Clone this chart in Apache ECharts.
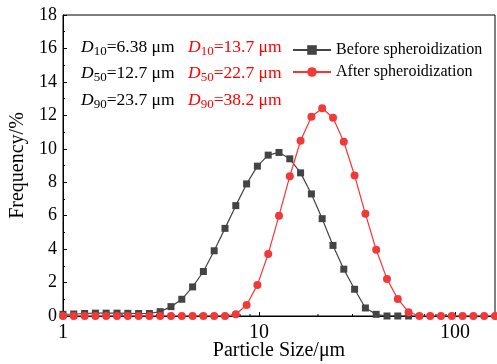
<!DOCTYPE html>
<html>
<head>
<meta charset="utf-8">
<script src="https://cdn.jsdelivr.net/npm/echarts@6/dist/echarts.min.js"></script>
<style>
  html, body { margin: 0; padding: 0; background: #fff; }
  #chart { width: 497px; height: 364px; }
</style>
</head>
<body>
<div id="chart"></div>
<script>
// particle size bins (um)
var sizes = [1.00, 1.135, 1.289, 1.464, 1.661, 1.886, 2.141, 2.431, 2.760, 3.133,
  3.556, 4.037, 4.584, 5.204, 5.908, 6.707, 7.614, 8.645, 9.813, 11.14,
  12.65, 14.36, 16.30, 18.51, 21.01, 23.85, 27.08, 30.74, 34.90, 39.62,
  44.98, 51.07, 57.97, 65.81, 74.71, 84.82, 96.30, 109.3, 124.1, 140.9, 160.0];

// frequency (%) before spheroidization
var before = [0.10, 0.12, 0.15, 0.17, 0.17, 0.17, 0.16, 0.15, 0.15, 0.26,
  0.56, 1.00, 1.74, 2.66, 3.90, 5.24, 6.60, 7.90, 8.96, 9.62,
  9.78, 9.40, 8.56, 7.30, 5.82, 4.22, 2.80, 1.60, 0.48, 0.10,
  0.00, 0.00, 0.00];

// frequency (%) after spheroidization
var after = [0, 0, 0, 0, 0, 0, 0, 0, 0, 0,
  0, 0, 0, 0, 0, 0, 0.10, 0.66, 1.86, 3.71,
  6.00, 8.36, 10.48, 11.92, 12.42, 11.86, 10.42, 8.40, 6.11, 3.96,
  2.22, 1.02, 0.23, 0, 0, 0, 0, 0, 0, 0, 0];

var minorX = [2, 3, 4, 5, 6, 7, 8, 9, 20, 30, 40, 50, 60, 70, 80, 90];

var nameBefore = 'Before spheroidization';
var nameAfter = 'After spheroidization';

var serif = "'Liberation Serif', 'Times New Roman', serif";

function pairs(ys) {
  return ys.map(function (v, i) { return [sizes[i], v]; });
}

var chart = echarts.init(document.getElementById('chart'));

var rich = {
  i: { fontStyle: 'italic', fontSize: 17.5, fontFamily: serif },
  s: { fontSize: 13, fontFamily: serif, padding: [10, 0, 0, 0] },
  n: { fontSize: 17.5, fontFamily: serif }
};

function note(txt, x, y, color) {
  return {
    type: 'text',
    x: x,
    y: y,
    style: {
      text: txt,
      fill: color,
      verticalAlign: 'middle',
      rich: rich
    }
  };
}

var option = {
  animation: false,
  grid: {
    left: 63, right: 2, top: 15, bottom: 48,
    show: true, borderColor: '#000', borderWidth: 1,
    outerBoundsMode: 'none'
  },
  legend: {
    orient: 'vertical',
    left: 287,
    top: 37,
    itemWidth: 38,
    itemHeight: 12,
    itemGap: 6,
    data: [nameBefore, nameAfter],
    textStyle: { fontFamily: serif, fontSize: 16, color: '#000' }
  },
  xAxis: {
    type: 'log',
    logBase: 10,
    min: 1,
    max: 160,
    name: 'Particle Size/\u03bcm',
    nameLocation: 'middle',
    nameGap: 25,
    nameMoveOverlap: false,
    nameTextStyle: { fontFamily: serif, fontSize: 20, color: '#000' },
    axisLine: { lineStyle: { color: '#000', width: 1 } },
    axisTick: { inside: true, length: 4, lineStyle: { color: '#000' } },
    axisLabel: {
      fontFamily: serif, fontSize: 20, color: '#000', margin: 7,
      showMaxLabel: false
    },
    splitLine: { show: false }
  },
  yAxis: {
    type: 'value',
    min: 0,
    max: 18,
    interval: 2,
    name: 'Frequency/%',
    nameLocation: 'middle',
    nameGap: 22,
    nameTextStyle: { fontFamily: serif, fontSize: 20, color: '#000' },
    axisLine: { show: true, lineStyle: { color: '#000', width: 1 } },
    axisTick: { inside: true, length: 4, lineStyle: { color: '#000' } },
    minorTick: { show: true, splitNumber: 2, length: 2, lineStyle: { color: '#000' } },
    axisLabel: { fontFamily: serif, fontSize: 18, color: '#000', margin: 6 },
    splitLine: { show: false }
  },
  graphic: [
    note('{i|D}{s|10}{n|=6.38 \u03bcm}', 81, 47, '#000'),
    note('{i|D}{s|50}{n|=12.7 \u03bcm}', 81, 73, '#000'),
    note('{i|D}{s|90}{n|=23.7 \u03bcm}', 81, 100, '#000'),
    note('{i|D}{s|10}{n|=13.7 \u03bcm}', 188, 47, '#ff0000'),
    note('{i|D}{s|50}{n|=22.7 \u03bcm}', 188, 73, '#ff0000'),
    note('{i|D}{s|90}{n|=38.2 \u03bcm}', 188, 100, '#ff0000')
  ],
  series: [
    {
      name: 'minor',
      type: 'custom',
      silent: true,
      data: minorX.map(function (v) { return [v, 0]; }),
      renderItem: function (params, api) {
        var p = api.coord([api.value(0), 0]);
        return {
          type: 'line',
          shape: { x1: p[0], y1: p[1], x2: p[0], y2: p[1] - 2 },
          style: { stroke: '#000', lineWidth: 1 }
        };
      },
      z: 1
    },
    {
      name: nameBefore,
      type: 'line',
      data: pairs(before),
      symbol: 'rect',
      symbolSize: 7,
      color: '#444',
      lineStyle: { color: '#444', width: 1.2 },
      itemStyle: { color: '#444' },
      z: 2
    },
    {
      name: nameAfter,
      type: 'line',
      data: pairs(after),
      symbol: 'circle',
      symbolSize: 8,
      color: '#f03a3a',
      lineStyle: { color: '#f33', width: 1.2 },
      itemStyle: { color: '#f03a3a' },
      z: 3
    }
  ]
};

chart.setOption(option);
</script>
</body>
</html>
